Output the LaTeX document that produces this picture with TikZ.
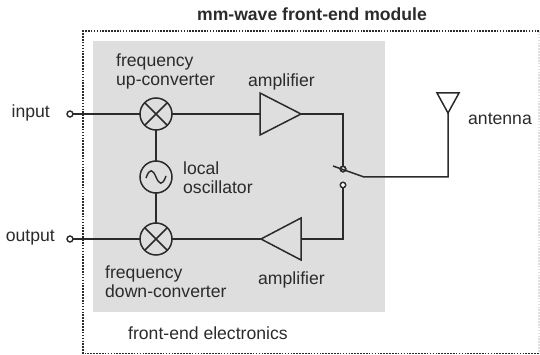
\documentclass[tikz,border=0pt]{standalone}
\usepackage{fontspec}
\setmainfont{Liberation Sans}
\usetikzlibrary{shapes.misc,shapes.geometric}
\definecolor{ink}{HTML}{2B2B2B}
\definecolor{panel}{HTML}{DEDEDE}
\tikzset{
  x=1pt,y=-1pt,
  wire/.style={draw=ink,line width=1.5pt,line join=miter},
  ring/.style={circle,draw=ink,line width=1.5pt,minimum size=32pt,inner sep=0pt,outer sep=0pt},
  term/.style={circle,draw=ink,line width=1.4pt,fill=white,minimum size=6pt,inner sep=0pt,outer sep=0pt},
  lbl/.style={text=ink,font=\fontsize{17.6}{19.2}\selectfont,inner sep=0pt,align=left},
  ampshape/.style={draw=ink,line width=1.5pt,line join=miter},
  frameline/.style={line width=1.6pt,dash pattern=on 1.6pt off 1.3pt},
}
\begin{document}
\begin{tikzpicture}
\useasboundingbox (0,0) rectangle (540,355);
\fill[panel] (93,41) rectangle (385,312);
\draw[ink!15,frameline] (539,31) -- (539,353.5);
\draw[ink,frameline] (539,31) -- (83,31) -- (83,353.5) -- (539,353.5);
% nodes
\node[term] (in) at (70,114) {};
\node[term] (out) at (70,239) {};
\node[ring] (m1) at (156,114) {};
\node[ring] (lo) at (156,177) {};
\node[ring] (m2) at (156,239) {};
\coordinate (a1w) at (260,114);
\coordinate (a1e) at (301,114);
\coordinate (a2w) at (261,239);
\coordinate (a2e) at (301,239);
\coordinate (c1) at (343,114);
\coordinate (c2) at (343,239);
\node[term,minimum size=5.5pt] (s1) at (343,169) {};
\node[term,minimum size=5.5pt] (s2) at (343,185) {};
\coordinate (armstart) at (333,166);
\coordinate (armend) at (364,177);
\coordinate (c3) at (448,177);
\coordinate (anttip) at (448,113);
% connectors
\draw[wire] (in) -- (m1);
\draw[wire] (m1) -- (a1w);
\draw[wire] (out) -- (m2);
\draw[wire] (m2) -- (a2w);
\draw[wire] (m1) -- (lo);
\draw[wire] (lo) -- (m2);
\draw[wire] (a1e) -- (c1) -- (s1);
\draw[wire] (a2e) -- (c2) -- (s2);
\draw[wire] (armstart) -- (armend) -- (c3) -- (anttip);
\node[term,minimum size=5.5pt,fill=none] at (s1) {};
% crosses
\draw[wire] (m1.north west) -- (m1.south east) (m1.north east) -- (m1.south west);
\draw[wire] (m2.north west) -- (m2.south east) (m2.north east) -- (m2.south west);
% sine
\draw[wire,line width=1.4pt] (146,178) .. controls (150,167) and (153,170) .. (156,177) .. controls (159,184) and (162,187) .. (166,176);
% amplifiers
\draw[ampshape] (260,93) -- (260,135) -- (a1e) -- cycle;
\draw[ampshape] (301,218) -- (301,260) -- (a2w) -- cycle;
% antenna
\draw[ampshape] (437,93) -- (459,93) -- (anttip) -- cycle;
% labels
\node[lbl,font=\fontsize{17.6}{19.2}\selectfont\bfseries] (title) at (312,14) {mm-wave front-end module};
\node[lbl,anchor=east] (linput) at (50,113) {input};
\node[lbl,anchor=east] (loutput) at (55,238) {output};
\node[lbl,anchor=west] (lup) at (116,71.5) {frequency\\up-converter};
\node[lbl,anchor=west] (ldown) at (105,281.5) {frequency\\down-converter};
\node[lbl,anchor=west] (llo) at (183,178) {local\\oscillator};
\node[lbl,anchor=west] (lamp1) at (248,82) {amplifier};
\node[lbl,anchor=west] (lamp2) at (258,280) {amplifier};
\node[lbl,anchor=west] (lant) at (468,119) {antenna};
\node[lbl,anchor=west] (lfe) at (128,333) {front-end electronics};
\end{tikzpicture}
\end{document}
